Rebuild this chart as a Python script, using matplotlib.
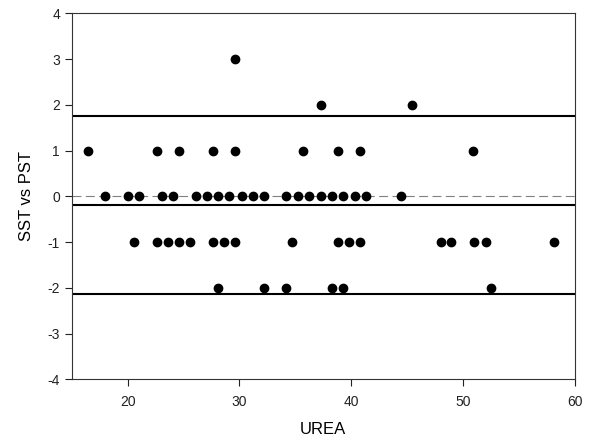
import matplotlib
matplotlib.use('Agg')
import matplotlib.pyplot as plt

plt.rcParams['font.family'] = ['Liberation Sans', 'DejaVu Sans']
plt.rcParams['axes.unicode_minus'] = False

# points, grouped by difference value
row_3 = [29.6]
row_2 = [37.3, 45.4]
row_1 = [16.5, 22.6, 24.6, 27.6, 29.6, 35.7, 38.8, 40.8, 50.9]
row_0 = [18.0, 20.0, 21.0, 23.1, 24.1, 26.1, 27.1, 28.1, 29.1, 30.2, 31.2,
         32.2, 34.2, 35.2, 36.2, 37.3, 38.3, 39.3, 40.3, 41.3, 44.4]
row_m1 = [20.6, 22.6, 23.6, 24.6, 25.6, 27.6, 28.6, 29.6, 34.7, 38.8, 39.8,
          40.8, 48.0, 48.9, 51.0, 52.0, 58.1]
row_m2 = [28.1, 32.2, 34.2, 38.3, 39.3, 52.5]

urea = row_3 + row_2 + row_1 + row_0 + row_m1 + row_m2
diff = ([3] * len(row_3) + [2] * len(row_2) + [1] * len(row_1) + [0] * len(row_0)
        + [-1] * len(row_m1) + [-2] * len(row_m2))

mean_diff = -0.19
upper_loa = 1.76
lower_loa = -2.14

fig = plt.figure(figsize=(5.94, 4.46), dpi=100)
ax = fig.add_axes([0.1207, 0.1496, 0.968 - 0.1207, 0.970 - 0.1496])

ax.axhline(0, color='#808080', lw=0.8, dashes=(8, 4), zorder=1)
for v in (upper_loa, mean_diff, lower_loa):
    ax.axhline(v, color='black', lw=1.5, zorder=2)
ax.plot(urea, diff, 'o', color='black', markersize=6, zorder=3)

ax.set_xlim(15, 60)
ax.set_ylim(-4, 4)
ax.set_xticks([20, 30, 40, 50, 60])
ax.set_yticks(range(-4, 5))
ax.tick_params(direction='out', length=5, width=0.8, labelsize=10, colors='#222222')
ax.tick_params(axis='x', pad=6)
for s in ax.spines.values():
    s.set_color('#333333')
    s.set_linewidth(0.8)

ax.set_xlabel('UREA', fontsize=12, labelpad=10)
ax.set_ylabel('SST vs PST', fontsize=12, labelpad=10)

fig.savefig('out.png', dpi=100)
